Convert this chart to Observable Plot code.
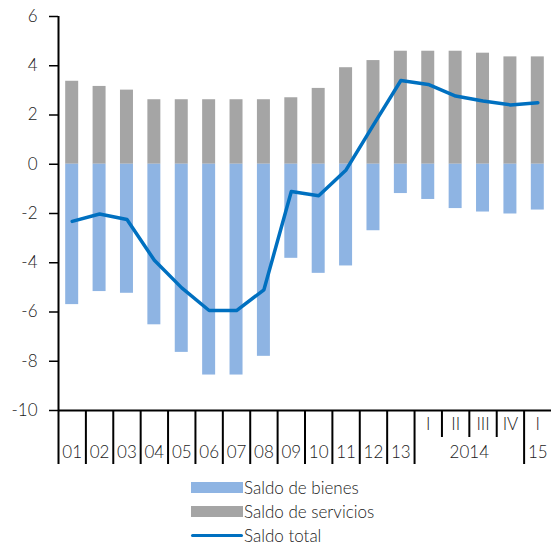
<!DOCTYPE html>
<html><head><meta charset="utf-8">
<script src="https://cdn.jsdelivr.net/npm/d3@7"></script>
<script src="https://cdn.jsdelivr.net/npm/@observablehq/plot@0.6"></script>
<style>
body{margin:0;background:#fff;font-family:Lato,sans-serif;font-weight:300;}
#chart{width:551px;}
#chart svg text{font-weight:300;}
.legend{margin-left:191px;padding-top:3px;}
.row{display:flex;align-items:center;height:24px;font-size:17px;color:#1a1a1a;}
.sw{width:52px;height:11px;margin-right:1px;}
.ln{width:52px;height:3px;background:#0070c0;border-radius:2px;margin-right:1px;}
</style></head><body><div id="chart"></div>
<div class="legend">
<div class="row"><div class="sw" style="background:#8eb4e3"></div>Saldo de bienes</div>
<div class="row"><div class="sw" style="background:#a5a5a5"></div>Saldo de servicios</div>
<div class="row"><div class="ln"></div>Saldo total</div>
</div>
<script>
const periodYear = ["01","02","03","04","05","06","07","08","09","10","11","12","13","2014","2014","2014","2014","15"];
const periodQuarter = ["","","","","","","","","","","","","","I","II","III","IV","I"];
const bienes = [-5.70,-5.17,-5.24,-6.52,-7.64,-8.56,-8.56,-7.80,-3.82,-4.43,-4.13,-2.70,-1.19,-1.43,-1.80,-1.94,-2.02,-1.86];
const servicios = [3.37,3.16,3.01,2.62,2.62,2.62,2.62,2.62,2.70,3.08,3.92,4.21,4.59,4.59,4.59,4.51,4.36,4.36];
const total = [-2.32,-2.02,-2.24,-3.90,-5.02,-5.94,-5.94,-5.10,-1.11,-1.28,-0.23,1.60,3.40,3.24,2.77,2.57,2.41,2.50];
const yTicks = [-10,-8,-6,-4,-2,0,2,4,6];

const data = periodYear.map((y,i)=>({i, year:y, q:periodQuarter[i], bienes:bienes[i], servicios:servicios[i], total:total[i]}));
const n = data.length;

// year groups (consecutive runs)
const groups = [];
data.forEach(d=>{
  const g = groups[groups.length-1];
  if (g && g.label===d.year) g.end = d.i+1; else groups.push({label:d.year, start:d.i, end:d.i+1});
});
const fullBounds = groups.map(g=>g.start);
const shortBounds = [];
groups.forEach(g=>{ for(let k=g.start+1;k<g.end;k++) shortBounds.push(k); });
const groupCenters = groups.map(g=>(g.start+g.end)/2);
const groupLabel = new Map(groups.map(g=>[(g.start+g.end)/2, g.label]));
const qData = data.filter(d=>d.q!=="");
const qLabel = new Map(qData.map(d=>[d.i+0.5, d.q]));

const font = "Lato, sans-serif";
const chart = Plot.plot({
  width: 551, height: 472,
  marginLeft: 58, marginRight: 0, marginTop: 16, marginBottom: 62,
  style: {fontFamily: font, color:"#1a1a1a", background:"#fff"},
  x: {domain:[0,n], axis:null},
  y: {domain:[-10,6], axis:null},
  marks: [
    Plot.rectY(data, {x1:d=>d.i, x2:d=>d.i+1, y1:0, y2:"servicios", fill:"#a5a5a5", insetLeft:7.2, insetRight:7.2}),
    Plot.rectY(data, {x1:d=>d.i, x2:d=>d.i+1, y1:0, y2:"bienes", fill:"#8eb4e3", insetLeft:7.2, insetRight:7.2}),
    Plot.line(data, {x:d=>d.i+0.5, y:"total", stroke:"#0070c0", strokeWidth:3.5, strokeLinejoin:"round", strokeLinecap:"round"}),
    Plot.ruleY([-10], {stroke:"#000", strokeWidth:2}),
    Plot.ruleX([0], {y1:-10, y2:6, stroke:"#000", strokeWidth:2}),
    Plot.axisY(yTicks, {tickSize:9, tickPadding:12, fontSize:17, label:null, stroke:"#000", strokeWidth:1.5, tickFormat:d=>String(d).replace("−","-")}),
    Plot.axisX(fullBounds, {tickSize:54, tickFormat:()=>"", stroke:"#000", strokeWidth:2, label:null}),
    Plot.axisX(shortBounds, {tickSize:27, tickFormat:()=>"", stroke:"#000", strokeWidth:2, label:null}),
    Plot.axisX(groupCenters, {tickSize:0, tickPadding:35, fontSize:17, tickFormat:v=>groupLabel.get(v), label:null}),
    Plot.axisX([...qLabel.keys()], {tickSize:0, tickPadding:7, fontSize:17, tickFormat:v=>qLabel.get(v), label:null})
  ]
});
document.getElementById("chart").appendChild(chart);
</script></body></html>
